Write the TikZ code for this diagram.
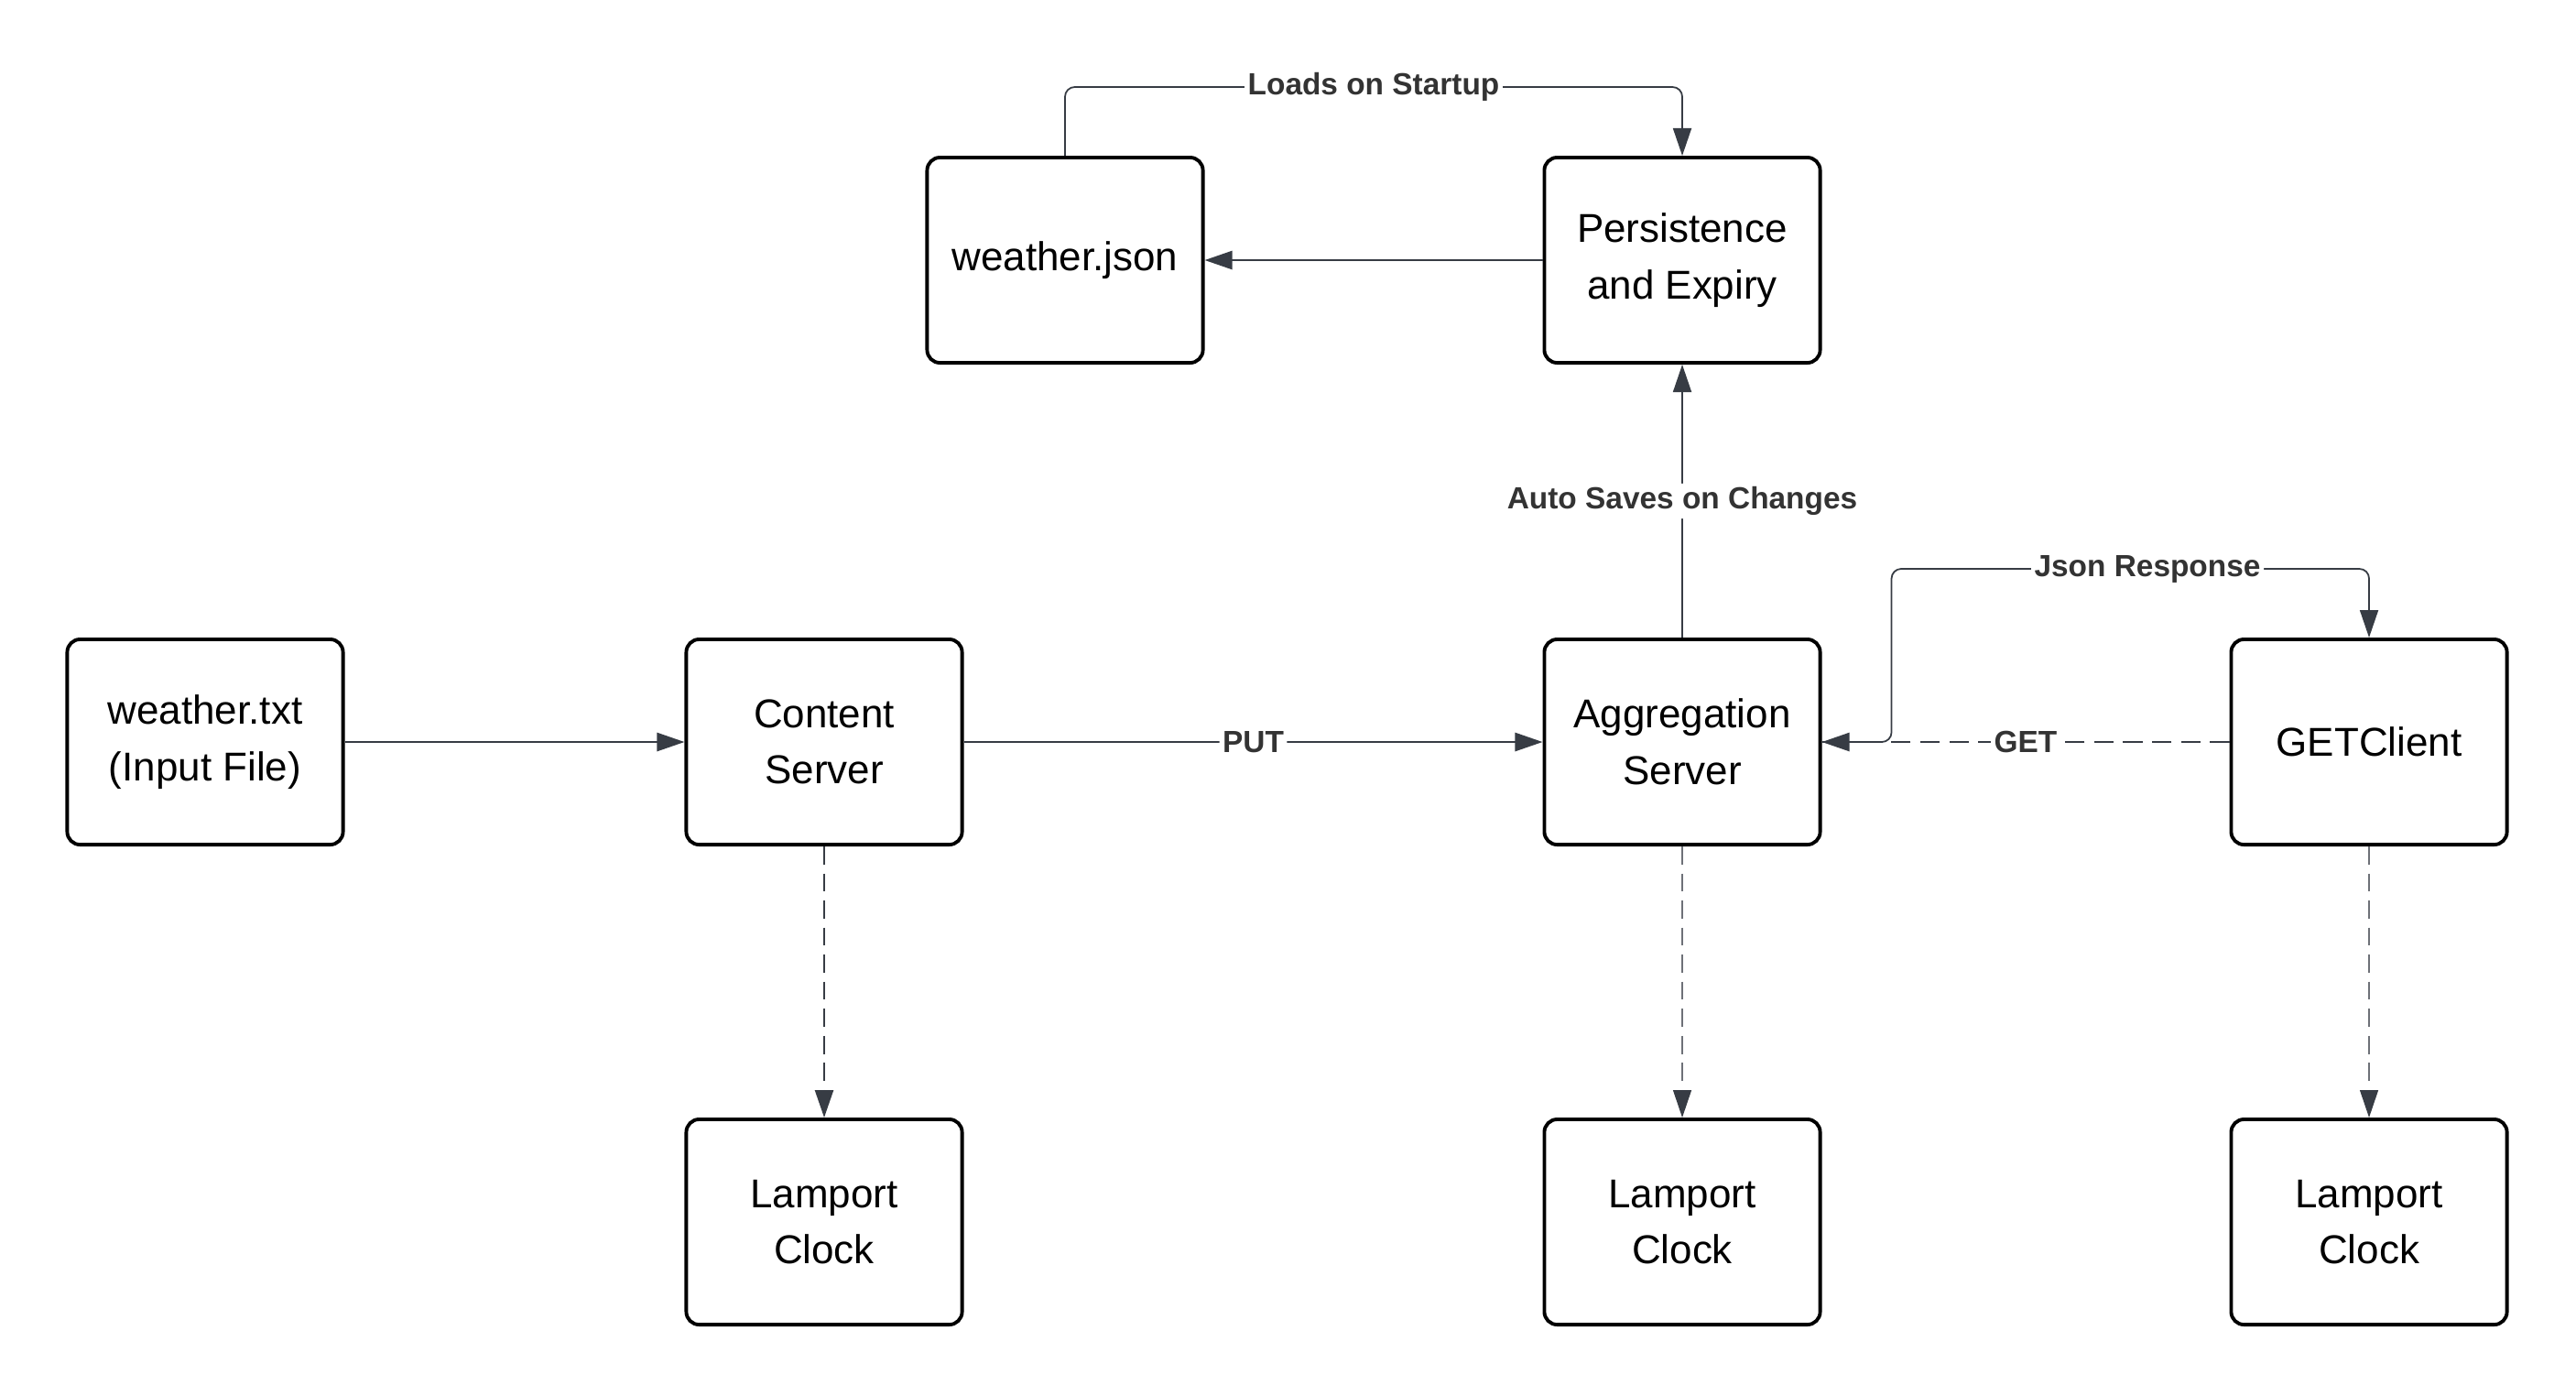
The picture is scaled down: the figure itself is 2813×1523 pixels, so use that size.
\documentclass[tikz,border=0pt]{standalone}
\usepackage{fontspec}
\setmainfont{Liberation Sans}
\usepackage{tikz}
\usetikzlibrary{arrows.meta}
\definecolor{edgegray}{HTML}{373C44}
\definecolor{labelgray}{HTML}{333333}
\definecolor{dashgray}{HTML}{6E7178}

\begin{document}
\begin{tikzpicture}[x=0.01cm,y=-0.01cm,
  block/.style={draw=black,line width=1.1pt,rounded corners=4pt,fill=white,
    minimum width=3.01cm,minimum height=2.24cm,align=center,
    font=\fontsize{12.5}{17.5}\selectfont},
  flow/.style={draw=edgegray,line width=0.7pt,rounded corners=3pt,
    -{Triangle[length=0.30cm,width=0.20cm,color=edgegray]}},
  query/.style={flow,dash pattern=on 6pt off 3pt},
  tick/.style={flow,dash pattern=on 5.6pt off 2.8pt},
  faint/.style={tick,draw=dashgray,line width=0.35pt},
  lbl/.style={fill=white,inner sep=1pt,text=labelgray,
    font=\fontsize{9.5}{11}\selectfont\bfseries}]
\fill[white] (0,0) rectangle (2813,1523);
\useasboundingbox (0,0) rectangle (2813,1523);

% storage
\node [block] (json) at (1163,284) {weather.json};
\node [block] (persist) at (1837,284) {Persistence\\and Expiry};

% main row
\node [block] (txt) at (224,810) {weather.txt\\(Input File)};
\node [block] (content) at (900,810) {Content\\Server};
\node [block] (agg) at (1837,810) {Aggregation\\Server};
\node [block] (getc) at (2587,810) {GETClient};

% clocks
\node [block] (lcContent) at (900,1334) {Lamport\\Clock};
\node [block] (lcAgg) at (1837,1334) {Lamport\\Clock};
\node [block] (lcGet) at (2587,1334) {Lamport\\Clock};

\coordinate (loadsTop) at (1500,95);
\coordinate (respTop) at (2345,621);

\draw [flow,line width=0.5pt] (json.north) |- (loadsTop) node [lbl] {Loads on Startup} -| (persist.north);
\draw [flow] (persist.west) -- (json.east);
\draw [flow,line width=0.5pt] (agg.north) -- node [lbl] {Auto Saves on Changes} (persist.south);
\draw [flow] (txt.east) -- (content.west);
\draw [flow] (content.east) -- node [lbl] {PUT} (agg.west);
\draw [query] (getc.west) -- node [lbl] {GET} (agg.east);
\draw [flow,line width=0.5pt] (agg.east) -- ++(76,0) |- (respTop) node [lbl] {Json Response} -| (getc.north);

\draw [tick] (content.south) -- (lcContent.north);
\draw [faint] (agg.south) -- (lcAgg.north);
\draw [faint] (getc.south) -- (lcGet.north);
\end{tikzpicture}
\end{document}
